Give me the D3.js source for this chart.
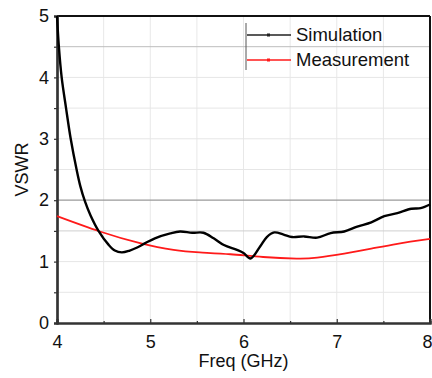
<!DOCTYPE html>
<html>
<head>
<meta charset="utf-8">
<script src="https://cdn.jsdelivr.net/npm/d3@7"></script>
<style>
  html, body { margin: 0; padding: 0; background: #fff; overflow: hidden; }
  svg { display: block; }
  text { font-family: Arial, "Liberation Sans", sans-serif; fill: #111; }
</style>
</head>
<body>
<svg width="432" height="378"></svg>
<script>
// values
const simFreq = [4.0, 4.02, 4.05, 4.097, 4.147, 4.21, 4.25, 4.3, 4.36, 4.445, 4.55, 4.62, 4.695, 4.78, 4.86, 4.946,
  5.05, 5.215, 5.32, 5.45, 5.57, 5.68, 5.79, 5.93, 6.0, 6.075, 6.18, 6.25, 6.33, 6.43, 6.52, 6.65, 6.79,
  6.935, 7.08, 7.22, 7.37, 7.51, 7.65, 7.8, 7.9, 8.0];
const simVswr = [5.0, 4.5, 4.0, 3.5, 3.0, 2.5, 2.23, 1.98, 1.75, 1.5, 1.28, 1.18, 1.15, 1.18, 1.23, 1.3,
  1.38, 1.46, 1.49, 1.47, 1.47, 1.38, 1.27, 1.19, 1.14, 1.05, 1.25, 1.4, 1.475, 1.44, 1.4, 1.41, 1.39,
  1.465, 1.49, 1.57, 1.64, 1.74, 1.79, 1.86, 1.87, 1.93];
const measFreq = [4.0, 4.46, 4.89, 5.25, 5.53, 5.86, 6.21, 6.57, 6.79, 7.08, 7.37, 7.65, 8.0];
const measVswr = [1.74, 1.49, 1.3, 1.19, 1.15, 1.12, 1.075, 1.05, 1.065, 1.13, 1.21, 1.29, 1.37];
const xTicks = [4, 5, 6, 7, 8];
const yTicks = [0, 1, 2, 3, 4, 5];
const seriesNames = ["Simulation", "Measurement"];

const svg = d3.select('svg');
const margin = {top: 16, right: 2, bottom: 55, left: 57};
const width = +svg.attr('width');
const height = +svg.attr('height');
const innerWidth = width - margin.left - margin.right;
const innerHeight = height - margin.top - margin.bottom;

const x = d3.scaleLinear().domain([4, 8]).range([0, innerWidth]);
const y = d3.scaleLinear().domain([0, 5]).range([innerHeight, 0]);

const g = svg.append('g').attr('transform', `translate(${margin.left},${margin.top})`);

// grid
const halfX = d3.range(4.5, 8, 0.5);
g.selectAll('.vgrid').data(halfX).enter().append('line')
  .attr('x1', d => x(d)).attr('x2', d => x(d))
  .attr('y1', 0).attr('y2', innerHeight)
  .attr('stroke', '#e8e8e8').attr('stroke-width', 1);
const halfY = d3.range(0.5, 5, 0.5);
g.selectAll('.hgrid').data(halfY).enter().append('line')
  .attr('x1', 0).attr('x2', innerWidth)
  .attr('y1', d => y(d)).attr('y2', d => y(d))
  .attr('stroke', d => d === 2 ? '#9a9a9a' : (d === 4.5 ? '#bdbdbd' : (d === 1.5 ? '#cfcfcf' : '#e6e6e6')))
  .attr('stroke-width', d => d === 2 ? 1.3 : 1);

// frame (top/right)
g.append('line').attr('x1', 0).attr('x2', innerWidth).attr('y1', 0).attr('y2', 0)
  .attr('stroke', '#111').attr('stroke-width', 2);
g.append('line').attr('x1', innerWidth).attr('x2', innerWidth).attr('y1', 0).attr('y2', innerHeight)
  .attr('stroke', '#111').attr('stroke-width', 2);

// axes
const xAxis = g.append('g').attr('transform', `translate(0,${innerHeight})`)
  .call(d3.axisBottom(x).tickValues(xTicks).tickSize(-4).tickPadding(12).tickFormat(d3.format('d')));
const xMinor = g.append('g').attr('transform', `translate(0,${innerHeight})`)
  .call(d3.axisBottom(x).tickValues(halfX.filter(d => d % 1 !== 0)).tickSize(-2));
const yAxis = g.append('g')
  .call(d3.axisLeft(y).tickValues(yTicks).tickSize(3).tickPadding(5).tickFormat(d3.format('d')));
const yMinor = g.append('g')
  .call(d3.axisLeft(y).tickValues(halfY.filter(d => d % 1 !== 0)).tickSize(3));
// minor ticks carry no labels
xMinor.selectAll('.tick text').remove();
yMinor.selectAll('.tick text').remove();

[xAxis, xMinor, yAxis, yMinor].forEach(a => {
  a.select('.domain').attr('stroke', '#333').attr('stroke-width', 2.2);
  a.selectAll('.tick line').attr('stroke', '#333').attr('stroke-width', 1.2);
  a.selectAll('.tick text').style('font-size', '18px').attr('fill', '#111');
});
// keep the last label ("8") inside the page edge
xAxis.selectAll('.tick text').filter(d => d === 8).attr('text-anchor', 'end').attr('x', 2);

// lines
const simLine = d3.line().x(d => x(d[0])).y(d => y(d[1])).curve(d3.curveCatmullRom.alpha(0.5));
const measLine = d3.line().x(d => x(d[0])).y(d => y(d[1])).curve(d3.curveNatural);
const measData = measFreq.map((f, i) => [f, measVswr[i]]);
const simData = simFreq.map((f, i) => [f, simVswr[i]]);

g.append('path').datum(measData).attr('d', measLine)
  .attr('fill', 'none').attr('stroke', '#ff1a1a').attr('stroke-width', 1.8);
g.append('path').datum(simData).attr('d', simLine)
  .attr('fill', 'none').attr('stroke', '#000').attr('stroke-width', 2.4);

// axis titles
svg.append('text')
  .attr('x', margin.left + innerWidth / 2).attr('y', 367)
  .attr('text-anchor', 'middle').style('font-size', '18px').text('Freq (GHz)');
svg.append('text')
  .attr('transform', `translate(28,${margin.top + innerHeight / 2}) rotate(-90)`)
  .attr('text-anchor', 'middle').style('font-size', '18px').text('VSWR');

// legend
const legend = svg.append('g').attr('transform', 'translate(246,0)');
legend.append('line').attr('x1', 0).attr('x2', 0).attr('y1', 23).attr('y2', 70)
  .attr('stroke', '#555').attr('stroke-width', 1);
const colors = ['#222', '#ff1a1a'];
seriesNames.forEach((name, i) => {
  const ly = 35 + i * 25;
  legend.append('line').attr('x1', 1).attr('x2', 45).attr('y1', ly).attr('y2', ly)
    .attr('stroke', colors[i]).attr('stroke-width', 1.4);
  legend.append('rect').attr('x', 21).attr('y', ly - 1.5).attr('width', 3).attr('height', 3)
    .attr('fill', colors[i]);
  legend.append('text').attr('x', 50).attr('y', ly).attr('dy', '0.35em')
    .style('font-size', '18.5px').text(name);
});
</script>
</body>
</html>
